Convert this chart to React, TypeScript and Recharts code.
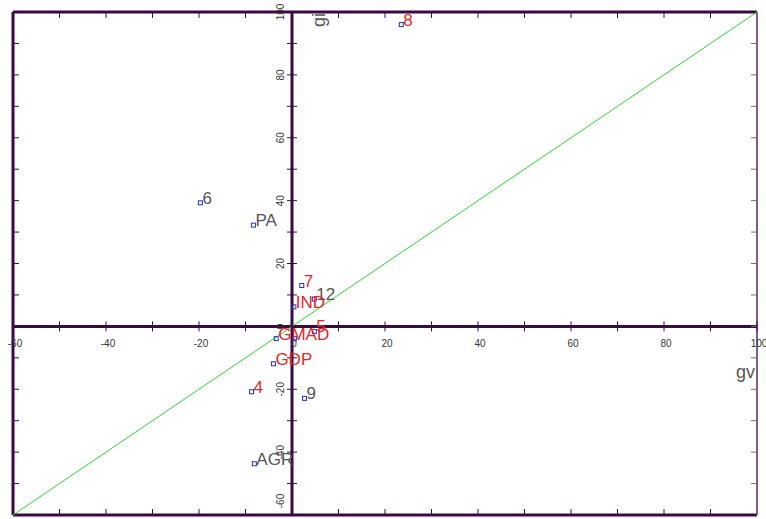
import * as React from 'react';
import { ScatterChart, Scatter, XAxis, YAxis, ReferenceLine, ReferenceDot } from 'recharts';

// points whose labels are drawn in red
const redNames = ['8', '7', 'IND', '5', 'GMAD', 'GDP', '4'];
const redGv = [23.5, 2.1, 0.4, 4.8, -3.4, -4.0, -8.7];
const redGi = [96, 13, 6.2, -1.6, -3.9, -11.9, -20.8];

// points whose labels are drawn in grey
const greyNames = ['6', 'PA', '12', '9', 'AGR', ''];
const greyGv = [-19.7, -8.3, 4.8, 2.7, -8.1, 0.5];
const greyGi = [39.3, 32.2, 8.7, -22.9, -43.7, -3.9];

const minorTicks = [-50, -40, -30, -20, -10, 0, 10, 20, 30, 40, 50, 60, 70, 80, 90];
const tickLabels = [-60, -40, -20, 0, 20, 40, 60, 80, 100];
const domain: [number, number] = [-60, 100];

const AXIS = '#3a0a42';
const FONT = 'Liberation Sans, Arial, sans-serif';

const makePoints = (names: string[], gv: number[], gi: number[]) =>
    names.map((name, i) => ({ name, gv: gv[i], gi: gi[i] }));

const pointShape = (color: string) => (props: any) => {
    const { cx, cy, payload } = props;
    return (
        <g>
            <rect x={cx - 2} y={cy - 2} width={4} height={4} fill="none" stroke="#2030c8" strokeWidth={1} />
            {payload.name ? (
                <text x={cx + 2} y={cy + 1} fill={color} fontSize={17} fontFamily={FONT}>{payload.name}</text>
            ) : null}
        </g>
    );
};

const App = () => {
    const allTicks = [-60, ...minorTicks, 100];
    return (
        <div style={{ position: 'absolute', left: 0, top: 0, background: '#fff' }}>
            <ScatterChart width={766} height={519} margin={{ top: 12, right: 9, bottom: 4, left: 13 }}>
                <XAxis type="number" dataKey="gv" domain={domain} hide />
                <YAxis type="number" dataKey="gi" domain={domain} hide />

                {/* frame */}
                <ReferenceLine x={-60} stroke={AXIS} strokeWidth={3} />
                <ReferenceLine y={100} stroke={AXIS} strokeWidth={3} />
                <ReferenceLine y={-60} stroke={AXIS} strokeWidth={3} />
                <ReferenceLine x={100} stroke="#7d5f84" strokeWidth={2} />

                {/* frame ticks */}
                {minorTicks.map((t) => (
                    <ReferenceDot key={'t' + t} x={t} y={100} ifOverflow="visible"
                        shape={(p: any) => <line x1={p.cx} x2={p.cx} y1={p.cy} y2={p.cy + 6} stroke={AXIS} />} />
                ))}
                {minorTicks.map((t) => (
                    <ReferenceDot key={'b' + t} x={t} y={-60} ifOverflow="visible"
                        shape={(p: any) => <line x1={p.cx} x2={p.cx} y1={p.cy - 6} y2={p.cy} stroke={AXIS} />} />
                ))}
                {minorTicks.map((t) => (
                    <ReferenceDot key={'l' + t} x={-60} y={t} ifOverflow="visible"
                        shape={(p: any) => <line x1={p.cx} x2={p.cx + 6} y1={p.cy} y2={p.cy} stroke={AXIS} />} />
                ))}
                {minorTicks.map((t) => (
                    <ReferenceDot key={'r' + t} x={100} y={t} ifOverflow="visible"
                        shape={(p: any) => <line x1={p.cx - 6} x2={p.cx} y1={p.cy} y2={p.cy} stroke="#7d5f84" />} />
                ))}

                {/* axes through the origin */}
                <ReferenceLine x={0} stroke={AXIS} strokeWidth={3} />
                <ReferenceLine y={0} stroke={AXIS} strokeWidth={3} />

                {allTicks.map((t) => (
                    <ReferenceDot key={'x' + t} x={t} y={0} ifOverflow="visible"
                        shape={(p: any) => (
                            <g>
                                <line x1={p.cx} x2={p.cx} y1={p.cy - 5} y2={p.cy + 5} stroke={AXIS} />
                                {tickLabels.includes(t) ? (
                                    <text x={p.cx + 2} y={p.cy + 21} textAnchor="middle" fontSize={10}
                                        fontFamily={FONT} fill="#333">{t}</text>
                                ) : null}
                            </g>
                        )} />
                ))}
                {allTicks.map((t) => (
                    <ReferenceDot key={'y' + t} x={0} y={t} ifOverflow="visible"
                        shape={(p: any) => {
                            // the lowest label is pushed up so it stays on the page
                            const ly = t === -60 ? p.cy - 14 : p.cy;
                            return (
                                <g>
                                    <line x1={p.cx - 5} x2={p.cx + 5} y1={p.cy} y2={p.cy} stroke={AXIS} />
                                    {tickLabels.includes(t) ? (
                                        <text x={p.cx - 8} y={ly} textAnchor="middle" fontSize={10}
                                            fontFamily={FONT} fill="#333"
                                            transform={`rotate(-90 ${p.cx - 8} ${ly})`}>{t}</text>
                                    ) : null}
                                </g>
                            );
                        }} />
                ))}

                {/* axis titles */}
                <ReferenceDot x={100} y={0} ifOverflow="visible"
                    shape={(p: any) => (
                        <text x={p.cx - 2} y={p.cy + 52} textAnchor="end" fontSize={18} fontFamily={FONT} fill="#555">gv</text>
                    )} />
                <ReferenceDot x={0} y={100} ifOverflow="visible"
                    shape={(p: any) => (
                        <text x={p.cx + 33} y={p.cy + 8} textAnchor="middle" fontSize={18} fontFamily={FONT} fill="#555"
                            transform={`rotate(-90 ${p.cx + 33} ${p.cy + 8})`}>gi</text>
                    )} />

                {/* 45 degree line */}
                <ReferenceLine segment={[{ x: -60, y: -60 }, { x: 100, y: 100 }]} stroke="#2ad82a" strokeWidth={1} />

                <Scatter data={makePoints(greyNames, greyGv, greyGi)} shape={pointShape('#555')} isAnimationActive={false} />
                <Scatter data={makePoints(redNames, redGv, redGi)} shape={pointShape('#e02828')} isAnimationActive={false} />
            </ScatterChart>
        </div>
    );
};

export default App;
